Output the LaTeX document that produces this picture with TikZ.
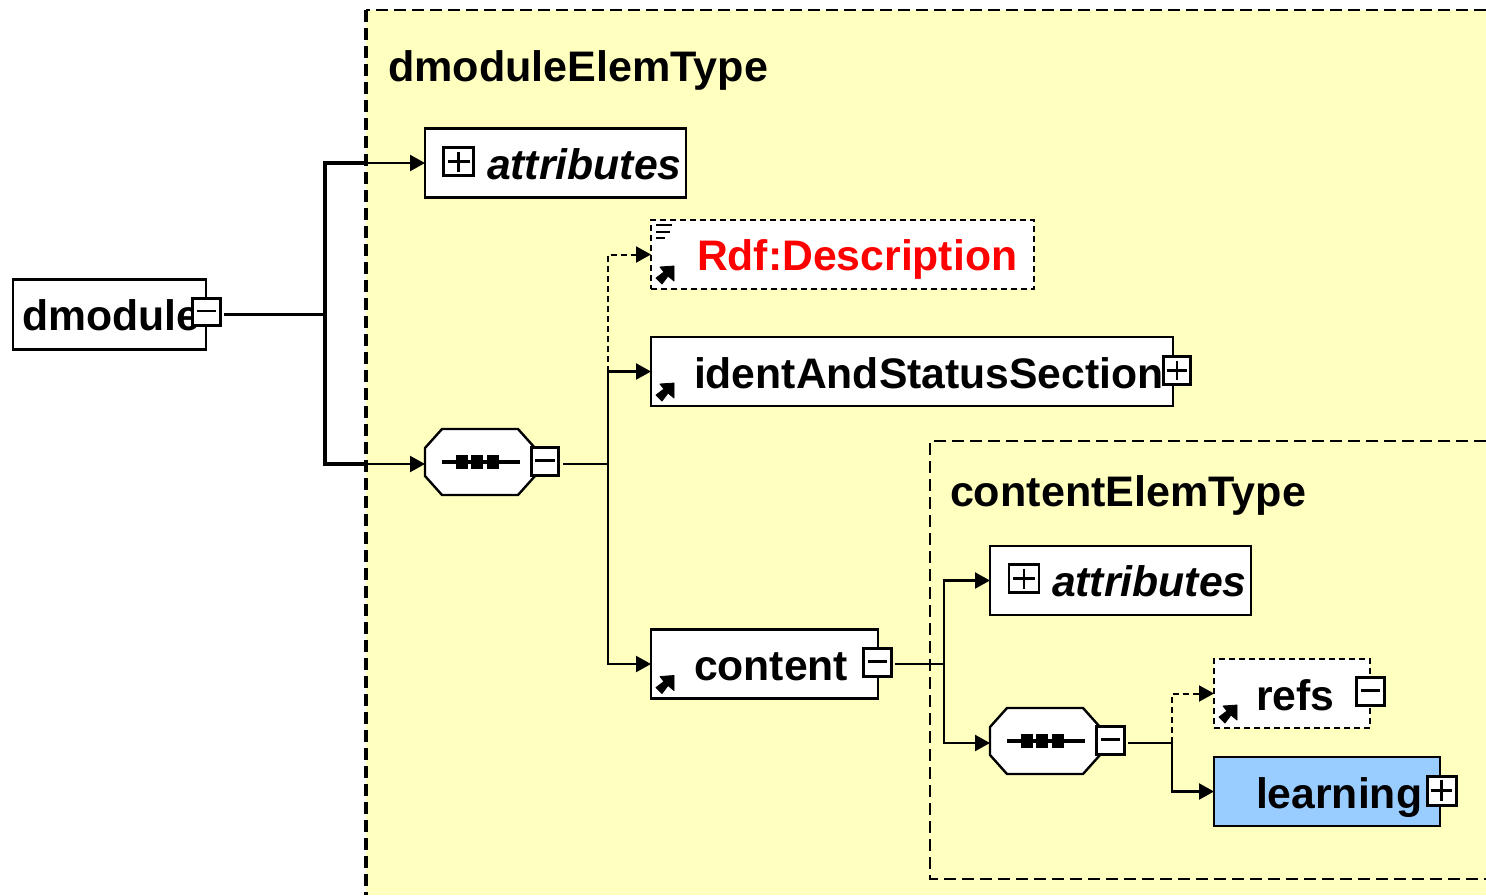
\documentclass[tikz,border=0pt]{standalone}
\usepackage{fontspec}
\setmainfont{Liberation Sans}
\usetikzlibrary{arrows.meta,calc}
\definecolor{typeyellow}{HTML}{FFFFBF}
\definecolor{selblue}{HTML}{99CCFF}
\tikzset{
  x=1pt,y=-1pt,
  elbox/.style 2 args={draw=black,fill=white,line width=2.4pt,minimum width=#1pt,minimum height=#2pt,inner sep=0pt,outer sep=0pt},
  optbox/.style 2 args={elbox={#1}{#2},dash pattern=on 6pt off 4pt},
  lbl/.style={anchor=base west,inner sep=0pt,outer sep=0pt,font=\fontsize{42.7pt}{44pt}\bfseries},
  ilbl/.style={lbl,font=\fontsize{42.7pt}{44pt}\bfseries\itshape},
  ctl/.style={draw=black,fill=white,line width=3pt,minimum width=27.5pt,minimum height=27.5pt,inner sep=0pt,outer sep=0pt},
  minusbox/.style={ctl,path picture={\draw[line width=2.6pt] ([xshift=4pt,yshift=1pt]path picture bounding box.west) -- ([xshift=-4pt,yshift=1pt]path picture bounding box.east);}},
  plusbox/.style={ctl,path picture={
    \draw[line width=2.6pt] ([xshift=4pt]path picture bounding box.west) -- ([xshift=-4pt]path picture bounding box.east);
    \draw[line width=2.6pt] ([yshift=-4pt]path picture bounding box.north) -- ([yshift=4pt]path picture bounding box.south);}},
  conn/.style={line width=2.3pt,draw=black},
  thickconn/.style={line width=3.4pt,draw=black},
  optconn/.style={line width=2pt,draw=black,dash pattern=on 6pt off 4pt},
  tip/.style={-{Triangle[length=15pt,width=16pt]}},
  typeframe/.style={line width=2.2pt,draw=black,dash pattern=on 12pt off 6pt},
  linkicon/.pic={\filldraw[black,line width=0.8pt,line join=round] (23,-23) -- (9,-22) -- (13,-17) -- (5,-11) -- (11,-5) -- (17,-13) -- (23,-8) -- cycle;},
  seqshape/.pic={
    \draw[line width=2.4pt,fill=white] (-38,-33) -- (38,-33) -- (55,-14) -- (55,14) -- (38,33) -- (-38,33) -- (-55,14) -- (-55,-14) -- cycle;
    \draw[line width=3.4pt] (-38,0) -- (40,0);
    \fill (-24,-7) rectangle (-12,7);
    \fill (-9,-7) rectangle (3,7);
    \fill (7,-7) rectangle (19,7);
  },
}
\begin{document}
\begin{tikzpicture}
\useasboundingbox (0,0) rectangle (1486,895);
% outer type frame
\fill[typeyellow] (366,10) rectangle (1486,895);
\draw[typeframe] (1486,10) -- (366,10);
\draw[typeframe,line width=3.4pt] (366,10) -- (366,895);
\node[lbl,xscale=1.01] (outertitle) at (388,81) {dmoduleElemType};
% inner type frame
\draw[typeframe] (1486,441) -- (930,441) -- (930,879) -- (1486,879);
\node[lbl,xscale=1.01] (innertitle) at (950,506) {contentElemType};

% root
\node[elbox={193}{70}] (dmodule) at (109.5,314.5) {};
\node[lbl] (dmoduletext) at (22,330) {dmodule};
\node[minusbox] (dmodulectl) at (206.5,312) {};

% attributes
\node[elbox={261}{69}] (attr) at (555.5,163) {};
\node[plusbox,minimum width=30pt,minimum height=28pt,line width=2.4pt] (attrctl) at (458.5,161.5) {};
\node[ilbl] (attrtext) at (487,179) {attributes};

% sequence 1
\coordinate (seqa) at (480,462);
\path (seqa) pic {seqshape};
\node[inner sep=0pt,outer sep=0pt,minimum width=110pt,minimum height=66pt] (seqabox) at (seqa) {};
\node[minusbox] (seqactl) at (545,461.5) {};

% Rdf:Description
\node[optbox={383}{69}] (rdf) at (842.5,254.5) {};
\node[lbl,text=red] (rdftext) at (697,270) {Rdf:Description};
\path (rdf.south west) pic {linkicon};
\draw[line width=1.8pt] (656,225) -- (672,225) (656,232) -- (670,232) (656,238) -- (665,238);

% identAndStatusSection
\node[elbox={522}{69}] (ident) at (912,371.5) {};
\node[lbl] (identtext) at (694,388) {identAndStatusSection};
\path (ident.south west) pic {linkicon};
\node[plusbox] (identctl) at (1177,370.5) {};

% content
\node[elbox={227}{69}] (content) at (764.5,664) {};
\node[lbl] (contenttext) at (694,680) {content};
\path (content.south west) pic {linkicon};
\node[minusbox] (contentctl) at (877.5,662.5) {};

% inner attributes
\node[elbox={261}{69}] (attrb) at (1120.5,580.5) {};
\node[plusbox,minimum width=30pt,minimum height=28pt,line width=2.4pt] (attrbctl) at (1024,578.5) {};
\node[ilbl] (attrbtext) at (1052,596) {attributes};

% sequence 2
\coordinate (seqb) at (1045,741);
\path (seqb) pic {seqshape};
\node[inner sep=0pt,outer sep=0pt,minimum width=110pt,minimum height=66pt] (seqbbox) at (seqb) {};
\node[minusbox] (seqbctl) at (1110.5,740.5) {};

% refs
\node[optbox={156}{69}] (refs) at (1292,693.5) {};
\node[lbl] (refstext) at (1256,710) {refs};
\path (refs.south west) pic {linkicon};
\node[minusbox] (refsctl) at (1370.5,691.5) {};

% learning
\node[elbox={226}{69},fill=selblue] (learning) at (1327,791.5) {};
\node[lbl] (learningtext) at (1256,808) {learning};
\node[plusbox,minimum width=29pt,minimum height=29pt] (learningctl) at (1441.5,790.5) {};

% connectors
\coordinate (busa) at (325,314.5);
\coordinate (busb) at (608,464);
\coordinate (busc) at (944,664);
\coordinate (busd) at (1172,743);

\draw[thickconn] ($(dmodulectl.east)+(4,2.5)$) -- (busa);
\draw[thickconn] (366,163) -| (busa) |- (366,464);
\draw[conn,tip] (366,163) -- (attr.west);
\draw[conn,tip] (366,464) -- (seqabox.west |- 0,464);

\draw[conn,shorten <=4pt] (seqactl.east |- busb) -- (busb);
\draw[optconn,tip] (608,372) |- (rdf.west);
\draw[conn,tip] (608,372) |- (ident.west);
\draw[conn] (608,372) -- (busb);
\draw[conn,tip] (busb) |- (content.west);

\draw[conn,shorten <=4pt] (contentctl.east |- busc) -- (busc);
\draw[conn,tip] (busc) |- (attrb.west);
\draw[conn,tip] (busc) |- (seqbbox.west |- 0,743);

\draw[conn,shorten <=4pt] (seqbctl.east |- busd) -- (busd);
\draw[optconn,tip] (busd) |- (refs.west);
\draw[conn,tip] (busd) |- (learning.west);
\end{tikzpicture}
\end{document}
